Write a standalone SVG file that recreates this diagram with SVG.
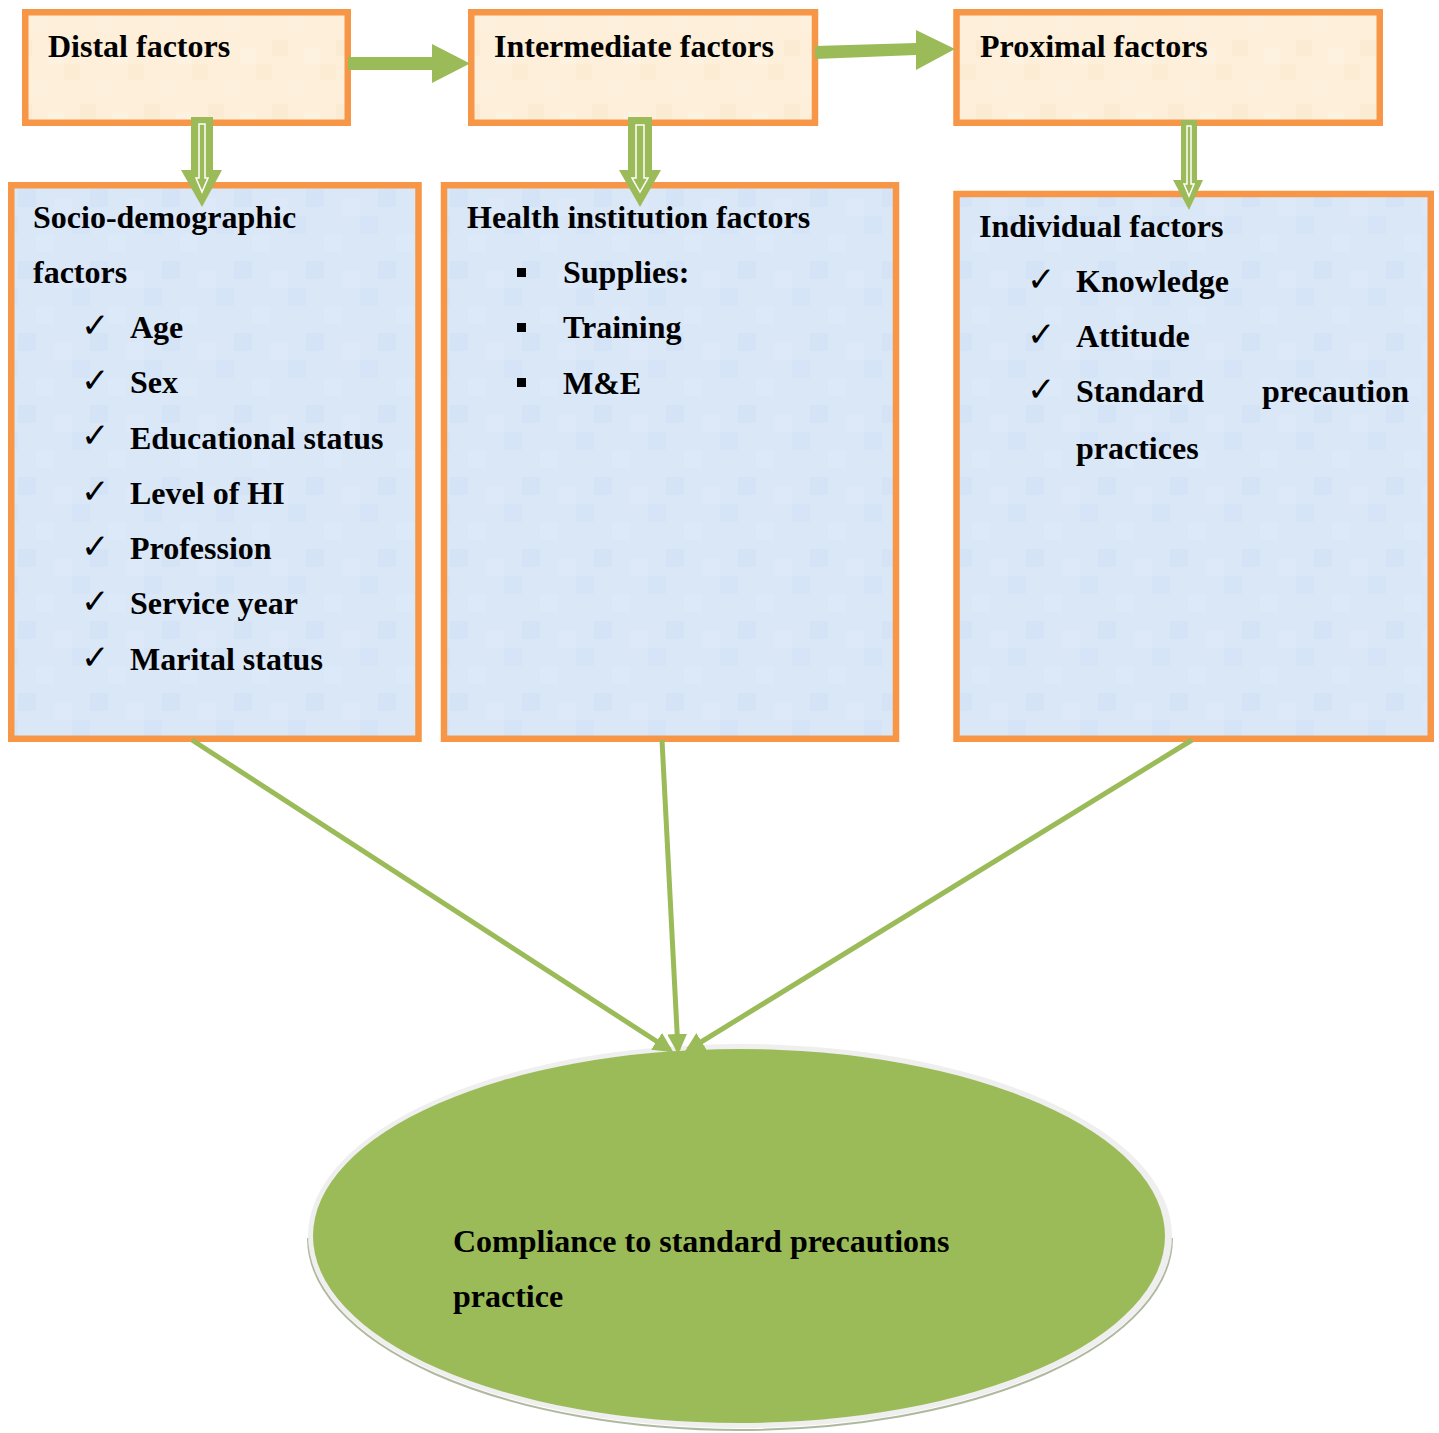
<svg xmlns="http://www.w3.org/2000/svg" width="1439" height="1433" viewBox="0 0 1439 1433">
<style>
  .t { font-family: "Liberation Serif", "Times New Roman", serif; font-weight: bold; font-size: 32px; fill: #000; }
  .ck { font-family: "DejaVu Sans", sans-serif; font-size: 34px; fill: #000; }
  .top { fill: url(#peach); stroke: #F79646; stroke-width: 6.5; }
  .box { fill: url(#blue); stroke: #F79646; stroke-width: 6.5; }
  .arr { fill: #9BBB59; }
  .inner { fill: none; stroke: #FFFFFF; stroke-width: 1.5; }
  .ln { stroke: #9BBB59; stroke-width: 5; fill: none; marker-end: url(#ah); }
</style>
<defs>
  <pattern id="peach" width="64" height="64" patternUnits="userSpaceOnUse">
    <rect width="64" height="64" fill="#FDEFD9"/>
    <rect x="0" y="0" width="16" height="16" fill="#FCECD4"/>
    <rect x="32" y="16" width="16" height="16" fill="#FDF1DE"/>
    <rect x="16" y="40" width="16" height="16" fill="#FCEBD3"/>
    <rect x="48" y="48" width="16" height="16" fill="#FDF1E0"/>
  </pattern>
  <pattern id="blue" width="72" height="72" patternUnits="userSpaceOnUse">
    <rect width="72" height="72" fill="#D9E7F7"/>
    <rect x="0" y="0" width="18" height="18" fill="#D5E4F6"/>
    <rect x="36" y="18" width="18" height="18" fill="#DCE9F8"/>
    <rect x="18" y="45" width="18" height="18" fill="#D4E3F5"/>
    <rect x="54" y="54" width="18" height="18" fill="#DDE9F8"/>
  </pattern>
  <marker id="ah" viewBox="0 0 10 10" refX="8" refY="5" markerWidth="4" markerHeight="4" orient="auto">
    <path d="M0,0 L10,5 L0,10 z" fill="#9BBB59"/>
  </marker>
</defs>

<g id="node-distal">
  <rect class="top" x="25.25" y="12.25" width="322.5" height="110.5"/>
  <text class="t" x="48" y="57">Distal factors</text>
</g>
<g id="node-intermediate">
  <rect class="top" x="471.25" y="12.25" width="343.75" height="110.5"/>
  <text class="t" x="494" y="57">Intermediate factors</text>
</g>
<g id="node-proximal">
  <rect class="top" x="956.5" y="12.25" width="423.25" height="110.5"/>
  <text class="t" x="980" y="57">Proximal factors</text>
</g>

<g id="node-socio">
  <rect class="box" x="11.25" y="185.25" width="407.25" height="553.5"/>
  <text class="t" x="33" y="228">Socio-demographic</text>
  <text class="t" x="33" y="283">factors</text>
  <g class="ck">
    <text x="81" y="337">✓</text>
    <text x="81" y="392">✓</text>
    <text x="81" y="447">✓</text>
    <text x="81" y="503">✓</text>
    <text x="81" y="558">✓</text>
    <text x="81" y="613">✓</text>
    <text x="81" y="669">✓</text>
  </g>
  <text class="t" x="130" y="338">Age</text>
  <text class="t" x="130" y="393">Sex</text>
  <text class="t" x="130" y="449">Educational status</text>
  <text class="t" x="130" y="504">Level of HI</text>
  <text class="t" x="130" y="559">Profession</text>
  <text class="t" x="130" y="614">Service year</text>
  <text class="t" x="130" y="670">Marital status</text>
</g>

<g id="node-health">
  <rect class="box" x="444" y="185.25" width="452" height="553.5"/>
  <text class="t" x="467" y="228">Health institution factors</text>
  <rect x="517" y="268" width="9" height="9" fill="#000"/>
  <rect x="517" y="323" width="9" height="9" fill="#000"/>
  <rect x="517" y="378" width="9" height="9" fill="#000"/>
  <text class="t" x="563" y="283">Supplies:</text>
  <text class="t" x="563" y="338">Training</text>
  <text class="t" x="563" y="394">M&amp;E</text>
</g>

<g id="node-individual">
  <rect class="box" x="956.5" y="194" width="474.25" height="544.75"/>
  <text class="t" x="979" y="237">Individual factors</text>
  <g class="ck">
    <text x="1027" y="291">✓</text>
    <text x="1027" y="346">✓</text>
    <text x="1027" y="401">✓</text>
  </g>
  <text class="t" x="1076" y="292">Knowledge</text>
  <text class="t" x="1076" y="347">Attitude</text>
  <text class="t" x="1076" y="402">Standard</text>
  <text class="t" x="1262" y="402">precaution</text>
  <text class="t" x="1076" y="459">practices</text>
</g>

<g id="node-compliance">
  <path d="M308,1238 A432,192 0 0 0 1172,1238" fill="none" stroke="#6E7F4E" stroke-width="2" opacity="0.55"/>
  <ellipse cx="740" cy="1236" rx="432" ry="192" fill="#EFEFEF"/>
  <ellipse cx="739" cy="1236" rx="426" ry="187" fill="#9BBB59"/>
  <text class="t" x="453" y="1252">Compliance to standard precautions</text>
  <text class="t" x="453" y="1307">practice</text>
</g>

<g id="connectors">
  <!-- Distal -> Intermediate -->
  <polygon class="arr" points="348,57 432,57 432,44 470,63.5 432,83 432,70 348,70"/>
  <!-- Intermediate -> Proximal -->
  <polygon class="arr" points="815,46 916,43 916,30 955,49 916,70 916,55 815,59"/>
  <!-- Distal down -->
  <polygon class="arr" points="191,117 213,117 213,170 222,170 202,207 181,170 191,170"/>
  <polygon class="inner" points="199,124 205,124 205,178 208,178 202,192 196,178 199,178"/>
  <!-- Intermediate down -->
  <polygon class="arr" points="628,117 652,117 652,170 661,170 640,207 619,170 628,170"/>
  <polygon class="inner" points="636,125 644,125 644,178 648,178 640,192 632,178 636,178"/>
  <!-- Proximal down -->
  <polygon class="arr" points="1181,120 1197,120 1197,180 1203,180 1189,210 1173,180 1181,180"/>
  <polygon class="inner" points="1187,126 1191,126 1191,184 1194,184 1189,196 1184,184 1187,184"/>
  <!-- to outcome -->
  <line class="ln" x1="192" y1="740" x2="670" y2="1050"/>
  <line class="ln" x1="662" y1="740" x2="678" y2="1050"/>
  <line class="ln" x1="1192" y1="740" x2="688" y2="1050"/>
</g>
</svg>
